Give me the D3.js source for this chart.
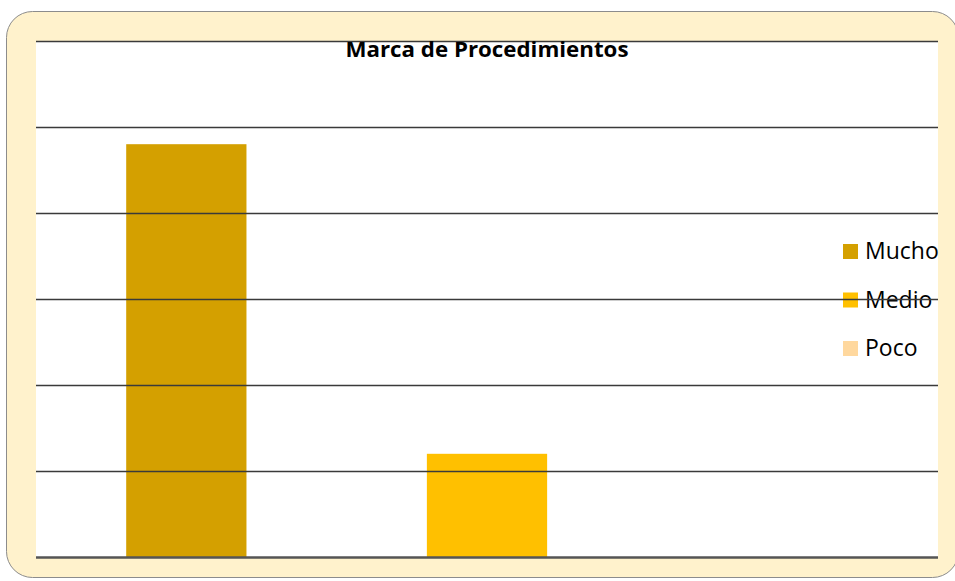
<!DOCTYPE html>
<html>
<head>
<meta charset="utf-8">
<script src="https://cdn.jsdelivr.net/npm/d3@7"></script>
<style>
  body { margin: 0; background: #fff; }
  svg { display: block; }
</style>
</head>
<body>
<script>
// chart data
var categories = ["Mucho", "Medio", "Poco"];
var values = [24, 6, 0];
var colors = ["#D4A000", "#FFC000", "#FFD89E"];
var yTicks = [0, 5, 10, 15, 20, 25, 30];
var title = "Marca de Procedimientos";

var svgWidth = 955;
var svgHeight = 581;

// plot area inside the frame
var plot = { left: 36, right: 938, top: 41, bottom: 557 };

var svg = d3.select("body")
  .append("svg")
  .attr("width", svgWidth)
  .attr("height", svgHeight);

// rounded frame
svg.append("rect")
  .attr("x", 6.5)
  .attr("y", 11.5)
  .attr("width", 952)
  .attr("height", 566)
  .attr("rx", 26)
  .attr("fill", "#FFF2CC")
  .attr("stroke", "#8c8c8c")
  .attr("stroke-width", 1);

// white plot area
svg.append("rect")
  .attr("x", plot.left)
  .attr("y", plot.top)
  .attr("width", plot.right - plot.left)
  .attr("height", plot.bottom - plot.top)
  .attr("fill", "#ffffff");

var x = d3.scaleBand()
  .domain(categories)
  .range([plot.left, plot.right])
  .paddingInner(0.6)
  .paddingOuter(0.3);

var y = d3.scaleLinear()
  .domain([0, 30])
  .range([plot.bottom, plot.top]);

// bars
svg.selectAll(".bar")
  .data(categories)
  .enter()
  .append("rect")
    .attr("class", "bar")
    .attr("x", d => x(d))
    .attr("width", x.bandwidth())
    .attr("y", (d, i) => y(values[i]))
    .attr("height", (d, i) => y(0) - y(values[i]))
    .attr("fill", (d, i) => colors[i]);

// legend
var legend = svg.append("g")
  .attr("transform", "translate(843, 244)");

categories.forEach(function(d, i) {
  var g = legend.append("g").attr("transform", `translate(0, ${i * 48.5})`);
  g.append("rect")
    .attr("width", 15)
    .attr("height", 15)
    .attr("fill", colors[i]);
  g.append("text")
    .attr("x", 22)
    .attr("y", 15)
    .attr("font-family", "'Open Sans', sans-serif")
    .attr("font-size", "23px")
    .attr("fill", "#000")
    .text(d);
});

// gridlines (drawn over legend, as in the original)
svg.selectAll(".grid")
  .data(yTicks)
  .enter()
  .append("line")
    .attr("class", "grid")
    .attr("x1", plot.left)
    .attr("x2", plot.right)
    .attr("y1", d => Math.round(y(d)) + 0.5)
    .attr("y2", d => Math.round(y(d)) + 0.5)
    .attr("stroke", d => d === 0 ? "#555555" : "#3a3a3a")
    .attr("stroke-width", d => d === 0 ? 2.5 : 1.3);

// title
svg.append("text")
  .attr("x", 487)
  .attr("y", 57)
  .attr("text-anchor", "middle")
  .attr("font-family", "'Open Sans', sans-serif")
  .attr("font-weight", "bold")
  .attr("font-size", "21px")
  .attr("textLength", 283)
  .attr("lengthAdjust", "spacingAndGlyphs")
  .attr("fill", "#000")
  .text(title);
</script>
</body>
</html>
